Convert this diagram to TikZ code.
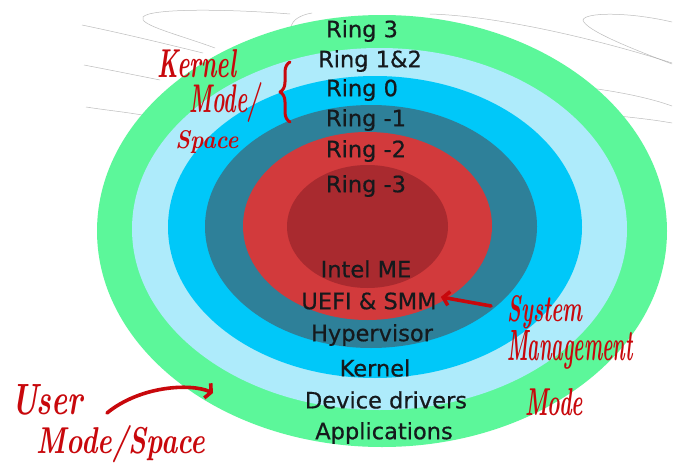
\documentclass[tikz,border=0pt]{standalone}
\usepackage{fontspec}
\newfontfamily\dv{DejaVu Sans}[FakeBold=0.6]
\usetikzlibrary{shapes.geometric,arrows.meta,decorations.pathreplacing}
\definecolor{cG}{HTML}{5CF79A}
\definecolor{cLB}{HTML}{AEEBFB}
\definecolor{cB}{HTML}{00C8F9}
\definecolor{cT}{HTML}{2E8099}
\definecolor{cR}{HTML}{D23A3C}
\definecolor{cDR}{HTML}{A92A2F}
\definecolor{ink}{HTML}{15191C}
\definecolor{pen}{HTML}{C8080C}
\definecolor{scrib}{HTML}{A0A0A0}
\newcommand{\hw}[3]{\resizebox{#1}{#2}{#3}}
\begin{document}
\begin{tikzpicture}[x=1pt,y=-1pt,
  ring/.style={ellipse,inner sep=0pt,draw=none},
  lab/.style={font=\dv\fontsize{22.5}{27}\selectfont,text=ink,inner sep=0pt},
  hand/.style={text=pen,inner sep=0pt,font=\bfseries\itshape},
  penline/.style={draw=pen,line width=3.6pt,line cap=round,line join=round},
  scribble/.style={draw=scrib,line width=0.5pt,opacity=0.7}]
\useasboundingbox[fill=white] (0,0) rectangle (675,471);

% faint scribbles
\draw[scribble] (290,14) .. controls (230,9) and (150,8) .. (143,17) .. controls (138,25) and (180,35) .. (215,48);
\draw[scribble] (312,13) .. controls (300,15) and (293,20) .. (291,26);
\draw[scribble] (82,25) .. controls (130,35) and (170,45) .. (203,53);
\draw[scribble] (84,65) .. controls (110,70) and (135,75) .. (160,80);
\draw[scribble] (86,107) .. controls (105,110) and (125,112) .. (142,115);
\draw[scribble] (430,14) .. controls (500,16) and (600,40) .. (672,63);
\draw[scribble] (672,22) .. controls (630,12) and (585,12) .. (583,20) .. controls (585,30) and (630,48) .. (672,64);
\draw[scribble] (590,88) .. controls (620,92) and (650,98) .. (672,106);
\draw[scribble] (586,113) .. controls (620,116) and (650,119) .. (672,123);

% rings
\node[ring,fill=cG,minimum width=570pt,minimum height=432pt] (r3) at (382,231) {};
\node[ring,fill=cLB,minimum width=495pt,minimum height=362pt] (r12) at (379.5,229) {};
\node[ring,fill=cB,minimum width=414pt,minimum height=302pt] (r0) at (375,227) {};
\node[ring,fill=cT,minimum width=332pt,minimum height=243pt] (rm1) at (371,226.5) {};
\node[ring,fill=cR,minimum width=249pt,minimum height=188pt] (rm2) at (367.5,226) {};
\node[ring,fill=cDR,minimum width=161pt,minimum height=123pt] (rm3) at (367.5,226.5) {};

% labels
\node[lab] (l3) at (362,31) {Ring 3};
\node[lab] (l12) at (370,61) {Ring 1\&2};
\node[lab] (l0) at (362,90) {Ring 0};
\node[lab] (lm1) at (366,120) {Ring -1};
\node[lab] (lm2) at (366,151) {Ring -2};
\node[lab] (lm3) at (366,186) {Ring -3};
\node[lab] (me) at (366,269) {Intel ME};
\node[lab] (smm) at (369,301) {UEFI \& SMM};
\node[lab] (hyp) at (372,335) {Hypervisor};
\node[lab] (ker) at (375,368) {Kernel};
\node[lab] (dev) at (386,400) {Device drivers};
\node[lab] (app) at (384,433) {Applications};

% handwriting
\node[hand] (k1) at (197,64) {\hw{79pt}{28pt}{Kernel}};
\node[hand] (k2) at (225,102) {\hw{70pt}{30pt}{Mode/}};
\node[hand] (k3) at (207,142) {\hw{63pt}{18pt}{Space}};
\node[hand] (u1) at (47,400) {\hw{71pt}{30pt}{User}};
\node[hand] (u2) at (121,444) {\hw{168pt}{28pt}{Mode/Space}};
\node[hand] (s1) at (545,312) {\hw{75pt}{26pt}{System}};
\node[hand] (s2) at (570,350) {\hw{126pt}{30pt}{Management}};
\node[hand] (s3) at (554,402) {\hw{58pt}{27pt}{Mode}};

% brace
\coordinate (bb) at (290,122);
\coordinate (bt) at (290,62);
\draw[penline,line width=3pt,decorate,decoration={brace,amplitude=10pt}] (bb) -- (bt);

% arrows
\coordinate (smmtail) at (491,306);
\draw[penline,-{Straight Barb[length=6pt,width=14pt]}] (smmtail) -- ([xshift=4pt,yshift=4pt]smm.east);
\coordinate (utail) at (107,413);
\coordinate (utip) at (213,393);
\draw[penline,-{Straight Barb[length=4pt,width=16pt]}] (utail) .. controls (140,386) and (190,383) .. (utip);
\end{tikzpicture}
\end{document}
